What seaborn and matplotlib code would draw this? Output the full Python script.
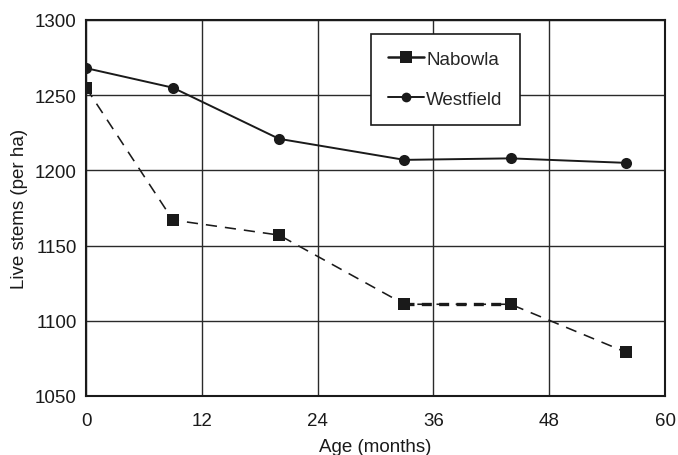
"""Live stem density over time at Nabowla and Westfield."""

import pandas as pd
import matplotlib
matplotlib.use("Agg")
import matplotlib.pyplot as plt
import seaborn as sns
from matplotlib.lines import Line2D

age_months = [0, 9, 20, 33, 44, 56]
nabowla = [1255, 1167, 1157, 1111, 1111, 1079]
westfield = [1268, 1255, 1221, 1207, 1208, 1205]

x_ticks = [0, 12, 24, 36, 48, 60]
y_ticks = [1050, 1100, 1150, 1200, 1250, 1300]

sns.set_theme(style="white")
plt.rcParams["font.family"] = ["Liberation Sans", "DejaVu Sans"]
FS = 13.5

df = pd.DataFrame({"age": age_months, "Nabowla": nabowla, "Westfield": westfield})

fig = plt.figure(figsize=(6.78, 4.56), dpi=100)
ax = fig.add_axes([86 / 678, 1 - 397 / 456, (665 - 86) / 678, (397 - 21) / 456])

ax.grid(True, color="#2a2a2a", linewidth=1.0)
ax.set_axisbelow(True)

sns.lineplot(data=df, x="age", y="Nabowla", ax=ax, color="#1a1a1a",
             linewidth=1.15, linestyle=(0, (7, 5)), marker="s", markersize=8,
             markeredgewidth=0, zorder=3)
# the 33-44 month segment is drawn heavier in the original
ax.plot(age_months[3:5], nabowla[3:5], color="#1a1a1a", linewidth=2.4,
        linestyle=(0, (3.0, 2.2)), zorder=3)
sns.lineplot(data=df, x="age", y="Westfield", ax=ax, color="#1a1a1a",
             linewidth=1.4, marker="o", markersize=8, markeredgewidth=0,
             zorder=3)

ax.set_xlim(0, 60)
ax.set_ylim(1050, 1300)
ax.set_xticks(x_ticks)
ax.set_yticks(y_ticks)
ax.tick_params(axis="both", direction="out", length=4.3, width=1,
               color="#1a1a1a", labelsize=FS, labelcolor="#1a1a1a")
ax.tick_params(axis="x", pad=7.5)
ax.tick_params(axis="y", pad=2.5)
ax.set_xlabel("Age (months)", fontsize=FS, color="#1a1a1a", labelpad=6)
ax.set_ylabel("Live stems (per ha)", fontsize=FS, color="#1a1a1a", labelpad=5)
for side in ax.spines.values():
    side.set_color("#1a1a1a")
    side.set_linewidth(1.5)

handles = [
    Line2D([], [], color="#1a1a1a", linewidth=1.8, linestyle="-",
           marker="s", markersize=8, markeredgewidth=0),
    Line2D([], [], color="#1a1a1a", linewidth=1.4, linestyle="-",
           marker="o", markersize=7, markeredgewidth=0),
]
leg = ax.legend(handles, ["Nabowla", "Westfield"], loc="upper left",
                bbox_to_anchor=((371 - 86) / 579, 1 - (35 - 21) / 376),
                frameon=True, fancybox=False, edgecolor="#1a1a1a",
                framealpha=1, fontsize=FS, handlelength=1.9,
                handletextpad=0.15, labelspacing=1.2, borderpad=0.9,
                borderaxespad=0)
leg.get_frame().set_linewidth(1.2)

fig.savefig("out.png", dpi=100)
plt.close(fig)
